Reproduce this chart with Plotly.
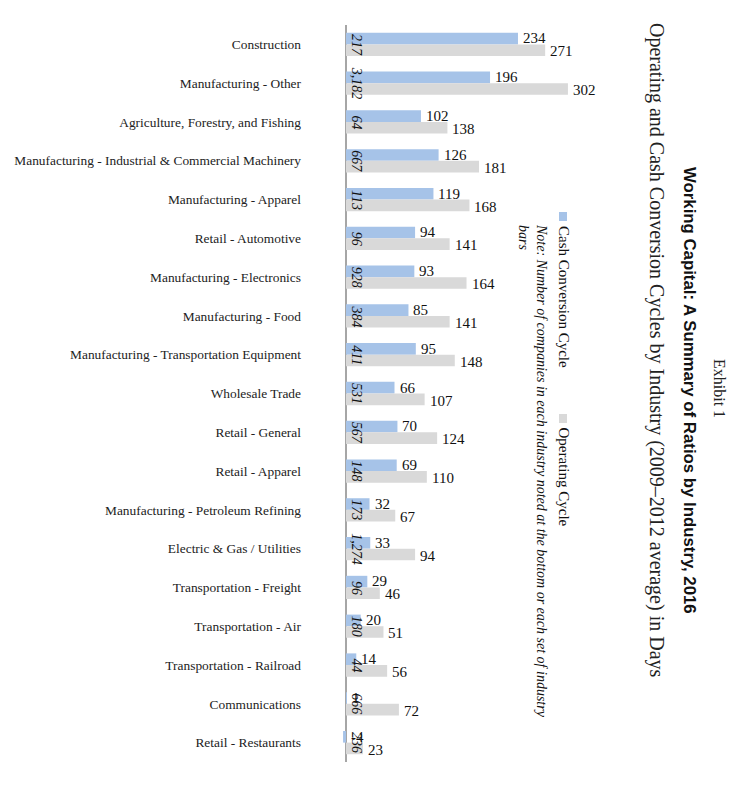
import plotly.graph_objects as go

industries = [
    "Construction", "Manufacturing - Other", "Agriculture, Forestry, and Fishing",
    "Manufacturing - Industrial & Commercial Machinery", "Manufacturing - Apparel",
    "Retail - Automotive", "Manufacturing - Electronics", "Manufacturing - Food",
    "Manufacturing - Transportation Equipment", "Wholesale Trade", "Retail - General",
    "Retail - Apparel", "Manufacturing - Petroleum Refining", "Electric & Gas / Utilities",
    "Transportation - Freight", "Transportation - Air", "Transportation - Railroad",
    "Communications", "Retail - Restaurants",
]
cash_conversion = [234, 196, 102, 126, 119, 94, 93, 85, 95, 66, 70, 69, 32, 33, 29, 20, 14, 1, -4]
operating_cycle = [271, 302, 138, 181, 168, 141, 164, 141, 148, 107, 124, 110, 67, 94, 46, 51, 56, 72, 23]
company_counts = ["217", "3,182", "64", "667", "113", "96", "928", "384", "411", "531", "567",
                  "148", "173", "1,274", "96", "180", "44", "666", "236"]

BLUE = "#a6c3e8"
GRAY = "#d9d9d9"
SERIF = "Liberation Serif, Times New Roman, serif"
SANS = "Liberation Sans, Arial, sans-serif"

W, H = 735, 790
OFF = 8  # page body margin
L, R, T, B = 340 - OFF, 603 - OFF, 25 - OFF, 762 - OFF


def px(x):
    return (x - OFF - L) / (R - L)


def py(y):
    return (B - (y - OFF)) / (B - T)


fig = go.Figure()
fig.add_trace(go.Bar(y=industries, x=cash_conversion, orientation="h", name="Cash Conversion Cycle",
                     marker=dict(color=BLUE, line=dict(width=0))))
fig.add_trace(go.Bar(y=industries, x=operating_cycle, orientation="h", name="Operating Cycle",
                     marker=dict(color=GRAY, line=dict(width=0))))

annotations = []
for i, ind in enumerate(industries):
    annotations.append(dict(x=max(cash_conversion[i], 0), y=ind, xref="x", yref="y",
                            text=str(cash_conversion[i]), showarrow=False, xanchor="left",
                            yanchor="middle", xshift=3, yshift=6,
                            font=dict(family=SERIF, size=15, color="#111")))
    annotations.append(dict(x=operating_cycle[i], y=ind, xref="x", yref="y",
                            text=str(operating_cycle[i]), showarrow=False, xanchor="left",
                            yanchor="middle", xshift=3, yshift=-7,
                            font=dict(family=SERIF, size=15, color="#111")))
    annotations.append(dict(x=0, y=ind, xref="x", yref="y", text="<i>%s</i>" % company_counts[i],
                            showarrow=False, textangle=90, xanchor="left", yanchor="middle",
                            xshift=1, font=dict(family=SERIF, size=14, color="#111")))

annotations += [
    dict(x=px(720), y=py(388), xref="paper", yref="paper", text="Exhibit 1", textangle=90,
         showarrow=False, xanchor="center", yanchor="middle",
         font=dict(family=SERIF, size=16, color="#222")),
    dict(x=px(690), y=py(390), xref="paper", yref="paper",
         text="<b>Working Capital: A Summary of Ratios by Industry, 2016</b>", textangle=90,
         showarrow=False, xanchor="center", yanchor="middle",
         font=dict(family=SANS, size=16.8, color="#111")),
    dict(x=px(657), y=py(350), xref="paper", yref="paper",
         text="Operating and Cash Conversion Cycles by Industry (2009\u20132012 average) in Days",
         textangle=90, showarrow=False, xanchor="center", yanchor="middle",
         font=dict(family=SERIF, size=20, color="#222")),
    dict(x=px(564), y=py(224), xref="paper", yref="paper", text="Cash Conversion Cycle",
         textangle=90, showarrow=False, xanchor="center", yanchor="top",
         font=dict(family=SERIF, size=15, color="#111")),
    dict(x=px(564), y=py(425), xref="paper", yref="paper", text="Operating Cycle",
         textangle=90, showarrow=False, xanchor="center", yanchor="top",
         font=dict(family=SERIF, size=15, color="#111")),
    dict(x=px(533), y=py(222), xref="paper", yref="paper",
         text="<i>Note: Number of companies in each industry noted at the bottom or each set of industry<br>bars</i>",
         textangle=90, showarrow=False, xanchor="center", yanchor="top", align="left",
         font=dict(family=SERIF, size=14, color="#111")),
]

shapes = [
    dict(type="rect", xref="paper", yref="paper", x0=px(559), x1=px(567), y0=py(212), y1=py(221),
         fillcolor=BLUE, line=dict(width=0)),
    dict(type="rect", xref="paper", yref="paper", x0=px(559), x1=px(567), y0=py(414), y1=py(423),
         fillcolor=GRAY, line=dict(width=0)),
]

fig.update_layout(
    width=W, height=H,
    margin=dict(l=L, r=W - R, t=T, b=H - B, pad=0),
    paper_bgcolor="white", plot_bgcolor="white",
    barmode="group", bargap=0.4, bargroupgap=0,
    showlegend=False,
    annotations=annotations, shapes=shapes,
    xaxis=dict(range=[-8.16, 349.7], showgrid=False, showticklabels=False, ticks="",
               zeroline=True, zerolinecolor="#a6a6a6", zerolinewidth=2, showline=False),
    yaxis=dict(autorange="reversed", showgrid=False, ticks="", showline=False,
               automargin=False, ticklabelstandoff=38,
               tickfont=dict(family=SERIF, size=13.4, color="#222")),
)

fig.write_html("out.html")
